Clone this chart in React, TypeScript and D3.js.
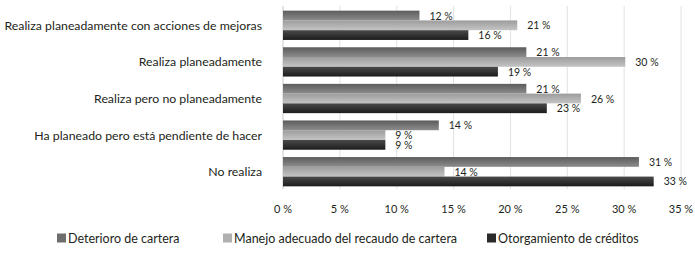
import React from "react";
import * as d3 from "d3";

const categories = [
  "Realiza planeadamente con acciones de mejoras",
  "Realiza planeadamente",
  "Realiza pero no planeadamente",
  "Ha planeado pero está pendiente de hacer",
  "No realiza",
];
const seriesNames = [
  "Deterioro de cartera",
  "Manejo adecuado del recaudo de cartera",
  "Otorgamiento de créditos",
];
const deterioro = [12.0, 21.4, 21.4, 13.7, 31.3];
const manejo = [20.6, 30.1, 26.2, 9.0, 14.2];
const otorgamiento = [16.3, 18.9, 23.2, 9.0, 32.6];
const xTicks = [0, 5, 10, 15, 20, 25, 30, 35];

const seriesValues = [deterioro, manejo, otorgamiento];
const gradients = [
  ["#5c5c5c", "#8c8c8c"],
  ["#9c9c9c", "#c4c4c4"],
  ["#4a4a4a", "#1c1c1c"],
];
const legendSwatch = ["#6e6e6e", "#b0b0b0", "#2a2a2a"];

const FONT = "Lato, 'Open Sans', sans-serif";

export default function App() {
  const W = 695;
  const H = 255;
  const x = d3.scaleLinear().domain([0, 35]).range([283, 681]);
  const y = d3
    .scaleBand<string>()
    .domain(categories)
    .range([7, 190])
    .paddingInner(0.2)
    .paddingOuter(0.1);
  const sub = d3
    .scaleBand<number>()
    .domain([0, 1, 2])
    .range([0, y.bandwidth()]);

  const legendX = [57, 223, 487];

  return (
    <div style={{ position: "absolute", left: 0, top: 0 }}>
      <svg width={W} height={H} style={{ display: "block", background: "#fff" }}>
        <defs>
          {gradients.map((g, i) => (
            <linearGradient key={i} id={`g${i}`} x1="0" y1="0" x2="0" y2="1">
              <stop offset="0" stopColor={g[0]} />
              <stop offset="1" stopColor={g[1]} />
            </linearGradient>
          ))}
        </defs>
        {xTicks.map((t) => (
          <line
            key={t}
            x1={x(t)}
            x2={x(t)}
            y1={6}
            y2={189}
            stroke={t === 0 ? "#c8c8c8" : "#e2e2e2"}
            strokeWidth={1}
          />
        ))}
        {categories.map((c, ci) => (
          <g key={c}>
            <text
              x={262}
              y={(y(c) ?? 0) + y.bandwidth() / 2}
              textAnchor="end"
              dominantBaseline="central"
              fontFamily={FONT}
              fontSize={12.3}
              fill="#231f20"
            >
              {c}
            </text>
            {seriesValues.map((vals, si) => {
              const v = vals[ci];
              const by = (y(c) ?? 0) + (sub(si) ?? 0);
              return (
                <g key={si}>
                  <rect
                    x={x(0)}
                    y={by}
                    width={x(v) - x(0)}
                    height={sub.bandwidth()}
                    fill={`url(#g${si})`}
                  />
                  <text
                    x={x(v) + 10}
                    y={by + sub.bandwidth() / 2}
                    dominantBaseline="central"
                    fontFamily={FONT}
                    fontSize={10.5}
                    fill="#231f20"
                  >
                    {`${Math.round(v)} %`}
                  </text>
                </g>
              );
            })}
          </g>
        ))}
        {xTicks.map((t) => (
          <text
            key={t}
            x={x(t)}
            y={208}
            textAnchor="middle"
            dominantBaseline="central"
            fontFamily={FONT}
            fontSize={11}
            fill="#231f20"
          >
            {`${t} %`}
          </text>
        ))}
        {seriesNames.map((s, i) => (
          <g key={s}>
            <rect x={legendX[i]} y={233.5} width={9} height={9} fill={legendSwatch[i]} />
            <text
              x={legendX[i] + 11}
              y={238}
              dominantBaseline="central"
              fontFamily={FONT}
              fontSize={12.5}
              fill="#231f20"
            >
              {s}
            </text>
          </g>
        ))}
      </svg>
    </div>
  );
}
